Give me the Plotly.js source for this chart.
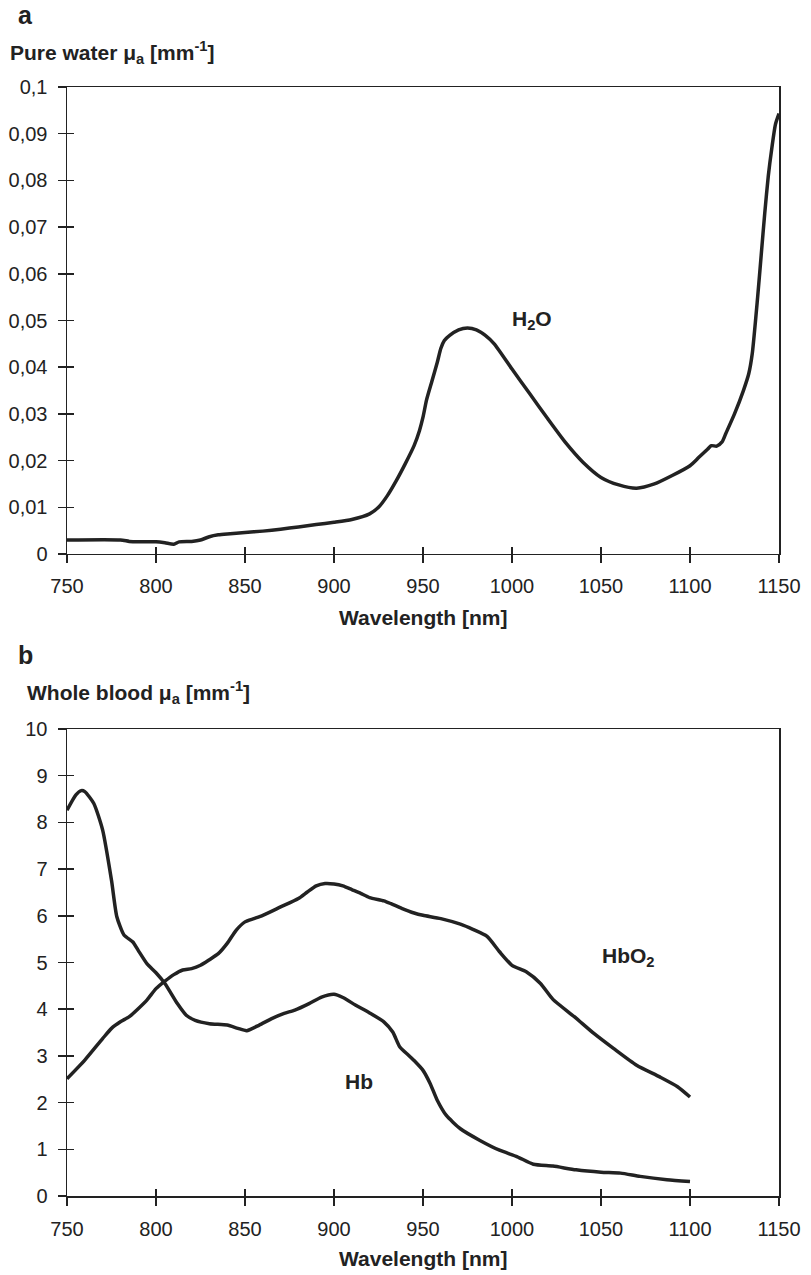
<!DOCTYPE html>
<html>
<head>
<meta charset="utf-8">
<script src="https://cdn.plot.ly/plotly-3.0.1.min.js"></script>
<style>html,body{margin:0;padding:0;background:#fff}</style>
</head>
<body>
<div id="chart" style="width:811px;height:1275px"></div>
<script>
// Panel a: pure water absorption
const water_nm = [750,780,785,790,800,805,810,813,820,825,830,835,840,850,860,870,880,890,900,910,920,925,930,935,940,945,948,950,952,955,958,960,962,965,970,975,980,985,990,1000,1010,1020,1030,1040,1050,1060,1070,1080,1090,1100,1105,1110,1112,1115,1118,1120,1125,1130,1133,1135,1138,1140,1142,1144,1146,1148,1150];
const water_mua = [0.0030,0.0030,0.0027,0.0026,0.0026,0.0024,0.0021,0.0026,0.0027,0.0030,0.0037,0.0041,0.0043,0.0046,0.0049,0.0053,0.0058,0.0063,0.0068,0.0074,0.0086,0.0100,0.0125,0.0157,0.0193,0.0232,0.0264,0.0293,0.0330,0.0370,0.0410,0.0440,0.0457,0.0468,0.0480,0.0484,0.0480,0.0468,0.0450,0.0396,0.0343,0.0290,0.0239,0.0196,0.0164,0.0148,0.0141,0.0150,0.0168,0.0189,0.0207,0.0225,0.0232,0.0231,0.0240,0.0257,0.0300,0.0350,0.0386,0.0430,0.0550,0.0640,0.0730,0.0810,0.0870,0.0920,0.0943];

// Panel b: whole blood absorption
const hb_nm = [750,755,758,760,765,770,775,778,782,787,790,795,800,805,812,817,822,830,840,846,851,858,865,872,878,886,893,900,905,912,920,928,933,937,942,945,950,954,958,963,971,982,993,1003,1012,1023,1036,1050,1061,1072,1087,1100];
const hb_mua = [8.26,8.59,8.68,8.66,8.41,7.84,6.76,5.98,5.59,5.44,5.26,4.97,4.78,4.55,4.12,3.87,3.76,3.69,3.66,3.59,3.54,3.66,3.80,3.91,3.98,4.12,4.26,4.32,4.25,4.09,3.92,3.73,3.51,3.19,3.01,2.90,2.69,2.41,2.05,1.73,1.44,1.19,0.98,0.84,0.68,0.64,0.56,0.51,0.49,0.42,0.35,0.31];
const hbo2_nm = [750,760,770,775,780,785,790,795,800,805,810,815,820,825,830,835,840,845,850,855,860,870,880,885,890,895,900,905,910,915,920,928,932,938,945,950,960,971,978,986,993,1000,1008,1016,1023,1035,1046,1057,1070,1083,1093,1100];
const hbo2_mua = [2.51,2.91,3.37,3.59,3.73,3.84,4.01,4.20,4.44,4.60,4.74,4.84,4.87,4.94,5.06,5.19,5.41,5.69,5.87,5.94,6.01,6.19,6.37,6.51,6.64,6.69,6.68,6.64,6.56,6.48,6.39,6.32,6.26,6.16,6.06,6.01,5.94,5.82,5.71,5.56,5.23,4.94,4.80,4.55,4.21,3.84,3.48,3.16,2.80,2.55,2.34,2.12];

const xTicks = [750,800,850,900,950,1000,1050,1100,1150];
const waterTicks = [0,0.01,0.02,0.03,0.04,0.05,0.06,0.07,0.08,0.09,0.1];
const bloodTicks = [0,1,2,3,4,5,6,7,8,9,10];

const INK = '#222';
const FONT = 'Liberation Sans, Arial, Helvetica, sans-serif';

const lineStyle = {color: INK, width: 3.5, shape: 'spline', smoothing: 0.6};

const traces = [
  {x: water_nm, y: water_mua, xaxis: 'x', yaxis: 'y', mode: 'lines', line: lineStyle, hoverinfo: 'skip'},
  {x: hb_nm, y: hb_mua, xaxis: 'x2', yaxis: 'y2', mode: 'lines', line: lineStyle, hoverinfo: 'skip'},
  {x: hbo2_nm, y: hbo2_mua, xaxis: 'x2', yaxis: 'y2', mode: 'lines', line: lineStyle, hoverinfo: 'skip'},
  // empty traces to host the inside-tick overlay axes
  {x: [], y: [], xaxis: 'x3', yaxis: 'y3', mode: 'lines', hoverinfo: 'skip'},
  {x: [], y: [], xaxis: 'x4', yaxis: 'y4', mode: 'lines', hoverinfo: 'skip'}
];

function mainAxis(extra) {
  return Object.assign({
    ticks: 'outside', ticklen: 8, tickwidth: 1.5, tickcolor: INK,
    showline: true, linewidth: 1.5, linecolor: INK, mirror: true,
    showgrid: false, zeroline: false,
    tickfont: {family: FONT, size: 20, color: INK},
    tickmode: 'array', fixedrange: true
  }, extra);
}
function innerAxis(extra) {
  return Object.assign({
    ticks: 'inside', ticklen: 7, tickwidth: 1.5, tickcolor: INK,
    showline: false, showgrid: false, zeroline: false, showticklabels: false,
    tickmode: 'array', fixedrange: true
  }, extra);
}

const topDom = [0.5789, 1];
const botDom = [0, 0.4211];

const layout = {
  width: 811, height: 1275,
  margin: {l: 67, r: 32, t: 87, b: 79},
  paper_bgcolor: '#fff', plot_bgcolor: '#fff',
  showlegend: false,
  separators: ',.',
  font: {family: FONT, color: INK},
  xaxis: mainAxis({domain: [0, 1], anchor: 'y', range: [750, 1150], tickvals: xTicks, ticklabelstandoff: 6}),
  yaxis: mainAxis({domain: topDom, anchor: 'x', range: [0, 0.1], tickvals: waterTicks, ticktext: waterTicks.map(v => String(v).replace('.', ',')), ticklabelstandoff: 6}),
  xaxis2: mainAxis({domain: [0, 1], anchor: 'y2', range: [750, 1150], tickvals: xTicks, ticklabelstandoff: 6}),
  yaxis2: mainAxis({domain: botDom, anchor: 'x2', range: [0, 10], tickvals: bloodTicks, ticklabelstandoff: 6}),
  xaxis3: innerAxis({overlaying: 'x', anchor: 'y', range: [750, 1150], tickvals: xTicks}),
  yaxis3: innerAxis({overlaying: 'y', anchor: 'x', range: [0, 0.1], tickvals: waterTicks}),
  xaxis4: innerAxis({overlaying: 'x2', anchor: 'y2', range: [750, 1150], tickvals: xTicks}),
  yaxis4: innerAxis({overlaying: 'y2', anchor: 'x2', range: [0, 10], tickvals: bloodTicks}),
  annotations: [
    {text: '<b>a</b>', xref: 'paper', yref: 'paper', x: -0.071, y: 1.0649, xanchor: 'left', yanchor: 'middle', showarrow: false, font: {size: 25, color: INK}},
    {text: '<b>Pure water μ<sub>a</sub> [mm<sup>-1</sup>]</b>', xref: 'paper', yref: 'paper', x: -0.083, y: 1.0307, xanchor: 'left', yanchor: 'middle', showarrow: false, font: {size: 21, color: INK}},
    {text: '<b>Wavelength [nm]</b>', xref: 'paper', yref: 'paper', x: 0.5, y: 0.5212, xanchor: 'center', yanchor: 'middle', showarrow: false, font: {size: 21, color: INK}},
    {text: '<b>H<sub>2</sub>O</b>', xref: 'x', yref: 'y', x: 998.8, y: 0.0501, xanchor: 'left', yanchor: 'middle', showarrow: false, font: {size: 21, color: INK}},
    {text: '<b>b</b>', xref: 'paper', yref: 'paper', x: -0.071, y: 0.4878, xanchor: 'left', yanchor: 'middle', showarrow: false, font: {size: 25, color: INK}},
    {text: '<b>Whole blood μ<sub>a</sub> [mm<sup>-1</sup>]</b>', xref: 'paper', yref: 'paper', x: -0.059, y: 0.4536, xanchor: 'left', yanchor: 'middle', showarrow: false, font: {size: 21, color: INK}},
    {text: '<b>Wavelength [nm]</b>', xref: 'paper', yref: 'paper', x: 0.5, y: -0.0568, xanchor: 'center', yanchor: 'middle', showarrow: false, font: {size: 21, color: INK}},
    {text: '<b>Hb</b>', xref: 'x2', yref: 'y2', x: 905.2, y: 2.46, xanchor: 'left', yanchor: 'middle', showarrow: false, font: {size: 21, color: INK}},
    {text: '<b>HbO<sub>2</sub></b>', xref: 'x2', yref: 'y2', x: 1049.4, y: 5.12, xanchor: 'left', yanchor: 'middle', showarrow: false, font: {size: 21, color: INK}}
  ]
};

Plotly.newPlot('chart', traces, layout, {staticPlot: true, displayModeBar: false});
</script>
</body>
</html>
